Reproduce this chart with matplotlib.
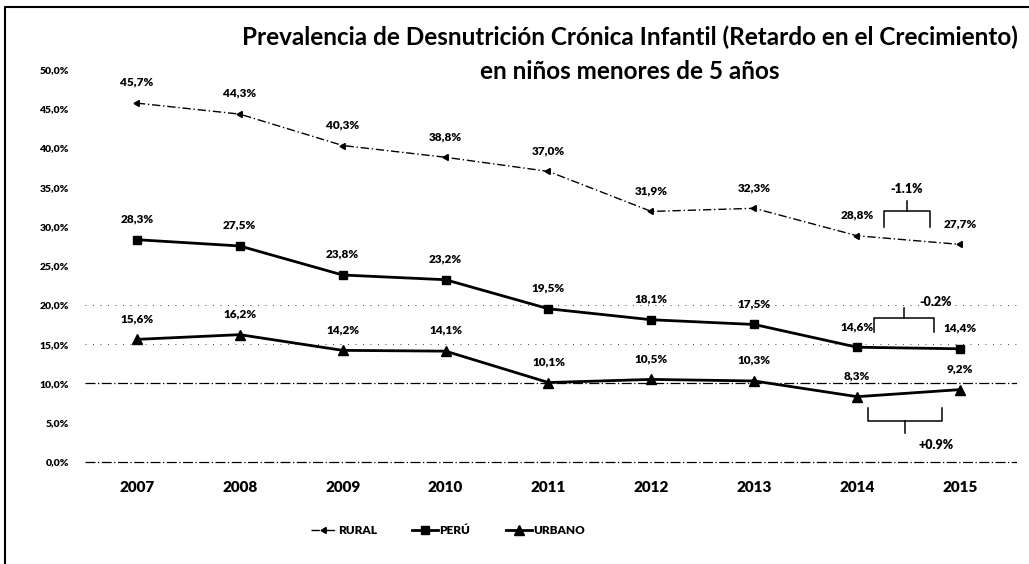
import matplotlib
matplotlib.use("Agg")
import matplotlib.pyplot as plt
from matplotlib.lines import Line2D

plt.rcParams["font.family"] = ["Lato", "DejaVu Sans"]
W = "heavy"

years = [2007, 2008, 2009, 2010, 2011, 2012, 2013, 2014, 2015]
rural = [45.7, 44.3, 40.3, 38.8, 37.0, 31.9, 32.3, 28.8, 27.7]
peru = [28.3, 27.5, 23.8, 23.2, 19.5, 18.1, 17.5, 14.6, 14.4]
urbano = [15.6, 16.2, 14.2, 14.1, 10.1, 10.5, 10.3, 8.3, 9.2]
y_ticks = [0, 5, 10, 15, 20, 25, 30, 35, 40, 45, 50]

series = [
    ("RURAL", rural, dict(ls=(0, (6, 2, 1, 2)), lw=1.0, marker=(3, 0, 90), ms=5)),
    ("PERÚ", peru, dict(ls="-", lw=2.0, marker="s", ms=6)),
    ("URBANO", urbano, dict(ls="-", lw=2.0, marker="^", ms=7)),
]


def fmt(v):
    return f"{v:.1f}%".replace(".", ",")


def bracket(ax, x0, x1, y, depth, tip):
    # llave simple: extremos, barra y pico central
    xm = (x0 + x1) / 2
    ax.plot([x0, x0, x1, x1], [y - depth, y, y, y - depth], color="black", lw=1.1)
    ax.plot([xm, xm], [y, y + tip], color="black", lw=1.1)


fig = plt.figure(figsize=(10.29, 5.64), dpi=100)
ax = fig.add_axes([0.083, 0.177, 0.905, 0.70])

for name, vals, st in series:
    ax.plot(years, vals, color="black", label=name, **st)
    for x, v in zip(years, vals):
        ax.annotate(fmt(v), (x, v), xytext=(0, 11), textcoords="offset points",
                    ha="center", va="bottom", fontsize=8.5, fontweight=W)

# lineas de referencia
ax.axhline(0, color="black", lw=0.9, ls=(0, (8, 2, 1, 2)))
ax.axhline(10, color="black", lw=0.9, ls=(0, (8, 2, 1, 2)))
ax.axhline(15, color="black", lw=0.6, ls=(0, (1, 8)))
ax.axhline(20, color="black", lw=0.6, ls=(0, (1, 8)))

# variaciones 2014-2015
bracket(ax, 2014.26, 2014.71, 31.9, 2.0, 1.3)
ax.text(2014.48, 34.8, "-1.1%", ha="center", va="center", fontsize=9, fontweight=W)
bracket(ax, 2014.16, 2014.75, 18.3, 1.8, 1.3)
ax.text(2014.6, 20.4, "-0.2%", ha="left", va="center", fontsize=9, fontweight=W)
bracket(ax, 2014.11, 2014.82, 5.2, -1.7, -1.5)
ax.text(2014.77, 2.2, "+0.9%", ha="center", va="center", fontsize=9, fontweight=W)

ax.set_xlim(2006.5, 2015.55)
ax.set_ylim(-0.3, 50)
ax.set_xticks(years)
ax.set_xticklabels([str(y) for y in years], fontsize=11, fontweight=W)
ax.set_yticks(y_ticks)
ax.set_yticklabels([fmt(t) for t in y_ticks], fontsize=7.5, fontweight=W)
ax.tick_params(length=0, pad=12)
ax.tick_params(axis="y", pad=12)
for s in ax.spines.values():
    s.set_visible(False)

handles = [Line2D([], [], color="black", **st) for _, _, st in series]
fig.legend(handles, [n for n, _, _ in series], loc="center", bbox_to_anchor=(0.435, 0.06),
           ncol=3, frameon=False, handlelength=2.2, columnspacing=3.0, handletextpad=0.1,
           prop={"size": 8.5, "weight": W})

fig.text(0.612, 0.933, "Prevalencia de Desnutrición Crónica Infantil (Retardo en el Crecimiento)",
         ha="center", va="center", fontsize=17.5, fontweight="bold")
fig.text(0.612, 0.873, "en niños menores de 5 años",
         ha="center", va="center", fontsize=17.5, fontweight="bold")

# marco del recuadro escaneado
fig.add_artist(Line2D([0.005, 0.005, 0.999], [0.0, 0.988, 0.988], color="black", lw=1.5,
                      transform=fig.transFigure))

fig.savefig("out.png", dpi=100)
